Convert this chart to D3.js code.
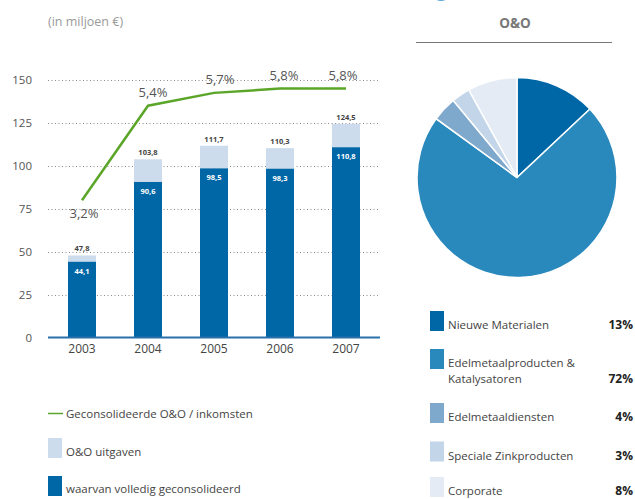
<!DOCTYPE html>
<html><head><meta charset="utf-8">
<script src="https://cdn.jsdelivr.net/npm/d3@7"></script>
<style>
html,body{margin:0;padding:0;background:#fff;}
svg{display:block;font-family:"Open Sans",sans-serif;}
</style></head>
<body>
<svg id="c" width="635" height="499"></svg>
<script>
// ---- data ----
const years = ["2003","2004","2005","2006","2007"];
const totalSpend = [47.8, 103.8, 111.7, 110.3, 124.5];      // O&O uitgaven
const consolidated = [44.1, 90.6, 98.5, 98.3, 110.8];        // waarvan volledig geconsolideerd
const ratioPct = [3.2, 5.4, 5.7, 5.8, 5.8];                  // Geconsolideerde O&O / inkomsten
const yTicks = [0, 25, 50, 75, 100, 125, 150];
const pieLabels = [["Nieuwe Materialen"], ["Edelmetaalproducten &", "Katalysatoren"], ["Edelmetaaldiensten"], ["Speciale Zinkproducten"], ["Corporate"]];
const pieValues = [13, 72, 4, 3, 8];

const fmt = v => String(v).replace(".", ",");
const svg = d3.select("#c");

// ---- bar chart ----
const y = d3.scaleLinear().domain([0,150]).range([337.5,80]);
const yPct = d3.scaleLinear().domain([0,6]).range([337.5,80]);
const x = d3.scaleBand().domain(years).range([49,379]).paddingInner(0.576).paddingOuter(0.288);

svg.append("text").attr("x",48).attr("y",26).attr("font-size",12.5).attr("fill","#9a9a9a")
  .text("(in miljoen €)");

// grid
const grid = svg.append("g");
grid.selectAll("line").data(yTicks.filter(t=>t>0)).join("line")
  .attr("x1",48).attr("x2",380).attr("y1",d=>Math.round(y(d))+0.5).attr("y2",d=>Math.round(y(d))+0.5)
  .attr("stroke","#8a8a8a").attr("stroke-width",1).attr("stroke-dasharray","1,2.5");

// y axis labels
const yAxis = d3.axisLeft(y).tickValues(yTicks).tickSize(0).tickPadding(0);
svg.append("g").attr("transform","translate(32,0)").call(yAxis)
  .call(g=>g.select(".domain").remove())
  .call(g=>g.selectAll("text").attr("font-size",11.5).attr("fill","#555").attr("font-family","'Open Sans',sans-serif"));

// bars
const bars = svg.append("g");
bars.selectAll("rect.tot").data(years).join("rect").attr("class","tot")
  .attr("x",d=>x(d)).attr("width",x.bandwidth())
  .attr("y",(d,i)=>y(totalSpend[i])).attr("height",(d,i)=>y(0)-y(totalSpend[i]))
  .attr("fill","#cddcec");
bars.selectAll("rect.con").data(years).join("rect").attr("class","con")
  .attr("x",d=>x(d)).attr("width",x.bandwidth())
  .attr("y",(d,i)=>y(consolidated[i])).attr("height",(d,i)=>y(0)-y(consolidated[i]))
  .attr("fill","#0067a7");
bars.selectAll("text.tot").data(years).join("text").attr("class","tot")
  .attr("x",d=>x(d)+x.bandwidth()/2).attr("y",(d,i)=>y(totalSpend[i])-4)
  .attr("text-anchor","middle").attr("font-size",7.5).attr("font-weight","bold").attr("fill","#444")
  .text((d,i)=>fmt(totalSpend[i]));
bars.selectAll("text.con").data(years).join("text").attr("class","con")
  .attr("x",d=>x(d)+x.bandwidth()/2).attr("y",(d,i)=>y(consolidated[i])+12)
  .attr("text-anchor","middle").attr("font-size",7.5).attr("font-weight","bold").attr("fill","#fff")
  .text((d,i)=>fmt(consolidated[i]));

// baseline
svg.append("line").attr("x1",48).attr("x2",380).attr("y1",y(0)).attr("y2",y(0))
  .attr("stroke","#2a70aa").attr("stroke-width",2);

// x axis labels
const xAxis = d3.axisBottom(x).tickSize(0).tickPadding(0);
svg.append("g").attr("transform","translate(0,344)").call(xAxis)
  .call(g=>g.select(".domain").remove())
  .call(g=>g.selectAll("text").attr("font-size",12).attr("fill","#444").attr("font-family","'Open Sans',sans-serif"));

// green line
const cx = d => x(d)+x.bandwidth()/2;
const line = d3.line().x((d,i)=>cx(years[i])).y(d=>yPct(d));
svg.append("path").datum(ratioPct).attr("d",line).attr("fill","none")
  .attr("stroke","#5ba629").attr("stroke-width",2.5).attr("stroke-linejoin","miter");
const lblDx = [2, 5, 6, 4, -3];
svg.append("g").selectAll("text").data(ratioPct).join("text")
  .attr("x",(d,i)=>cx(years[i])+lblDx[i])
  .attr("y",(d,i)=>i===0 ? yPct(d)+18 : yPct(d)-9)
  .attr("text-anchor","middle").attr("font-size",13).attr("fill","#555")
  .text(d=>fmt(d)+"%");

// legend left
const lg = svg.append("g");
lg.append("line").attr("x1",48).attr("x2",63).attr("y1",413.5).attr("y2",413.5).attr("stroke","#5ba629").attr("stroke-width",1.5);
lg.append("text").attr("x",66).attr("y",417.5).attr("font-size",11.5).attr("fill","#444").text("Geconsolideerde O&O / inkomsten");
lg.append("rect").attr("x",48).attr("y",438).attr("width",14).attr("height",20).attr("fill","#cddcec");
lg.append("text").attr("x",66).attr("y",456).attr("font-size",11.5).attr("fill","#444").text("O&O uitgaven");
lg.append("rect").attr("x",48).attr("y",476).attr("width",14).attr("height",20).attr("fill","#0067a7");
lg.append("text").attr("x",66).attr("y",493).attr("font-size",11.5).attr("fill","#444").text("waarvan volledig geconsolideerd");

// ---- pie ----
const pieColors = ["#0067a7","#2a89bc","#7fa8cd","#c2d5e9","#e4ebf5"];
svg.append("circle").attr("cx",441).attr("cy",-9).attr("r",10).attr("fill","#5aa7dc");
svg.append("text").attr("x",515).attr("y",28).attr("text-anchor","middle").attr("font-size",13.5)
  .attr("font-weight","bold").attr("fill","#777").text("O&O");
svg.append("line").attr("x1",416).attr("x2",612).attr("y1",42.5).attr("y2",42.5).attr("stroke","#777").attr("stroke-width",1);

const pie = d3.pie().sort(null).value(d=>d)(pieValues);
const arc = d3.arc().innerRadius(0).outerRadius(100);
svg.append("g").attr("transform","translate(517,177.5)")
  .selectAll("path").data(pie).join("path")
  .attr("d",arc).attr("fill",(d,i)=>pieColors[i]).attr("stroke","#fff").attr("stroke-width",1.5);

// pie legend
const legY = [311, 349, 403, 441.5, 477];
const pl = svg.append("g");
pieLabels.forEach((lines,i)=>{
  pl.append("rect").attr("x",430).attr("y",legY[i]).attr("width",14).attr("height",20).attr("fill",pieColors[i]);
  lines.forEach((t,j)=>{
    pl.append("text").attr("x",448).attr("y",legY[i]+18+j*16).attr("font-size",11.5).attr("fill","#444").text(t);
  });
  pl.append("text").attr("x",633).attr("y",legY[i]+18+(lines.length-1)*16).attr("text-anchor","end")
    .attr("font-size",12).attr("font-weight","bold").attr("fill","#222").text(pieValues[i]+"%");
});
</script>
</body></html>
